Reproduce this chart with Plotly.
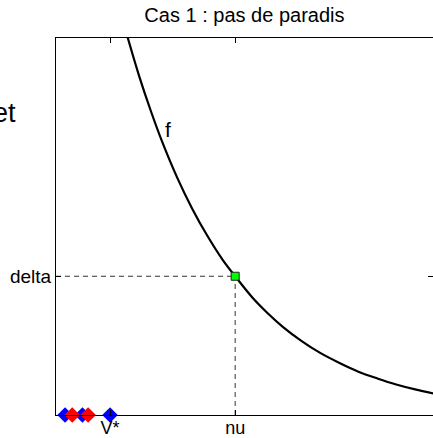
import plotly.graph_objects as go

# curve f
curve_x = [1.8, 1.9, 2.2, 2.5, 2.8, 3.2, 3.6, 4.0, 4.4, 4.74, 5.2, 5.6, 6.0, 6.5, 7.0, 7.5, 8.0, 8.5, 9.0, 9.5, 10.0]
curve_y = [10.36, 10.0, 8.99, 8.09, 7.27, 6.31, 5.48, 4.76, 4.13, 3.68, 3.11, 2.70, 2.34, 1.96, 1.64, 1.38, 1.15, 0.97, 0.81, 0.68, 0.57]

nu = 4.74
delta = 3.68
v_star = 1.43

blue_x = [0.24, 0.70, 1.43]
red_x = [0.43, 0.85]

x_tick_vals = [v_star, nu]
x_tick_text = ["V*", "nu"]
y_tick_vals = [delta]
y_tick_text = ["delta"]

FONT = "Liberation Sans, Arial, sans-serif"

fig = go.Figure()

# dashed guides
fig.add_trace(go.Scatter(x=[0, nu], y=[delta, delta], mode="lines",
                         line=dict(color="#333333", width=1, dash="5px,4px"),
                         hoverinfo="skip", showlegend=False))
fig.add_trace(go.Scatter(x=[nu, nu], y=[0, delta], mode="lines",
                         line=dict(color="#333333", width=1, dash="5px,4px"),
                         hoverinfo="skip", showlegend=False))

fig.add_trace(go.Scatter(x=curve_x, y=curve_y, mode="lines", line_shape="spline",
                         line=dict(color="black", width=2.2), showlegend=False))

fig.add_trace(go.Scatter(x=[nu], y=[delta], mode="markers",
                         marker=dict(symbol="square", size=8, color="#00ff00",
                                     line=dict(color="#222222", width=1)),
                         showlegend=False))

fig.add_trace(go.Scatter(x=blue_x, y=[0] * len(blue_x), mode="markers", cliponaxis=False,
                         marker=dict(symbol="diamond", size=12, color="#0000ff",
                                     line=dict(width=0)), showlegend=False))
fig.add_trace(go.Scatter(x=red_x, y=[0] * len(red_x), mode="markers", cliponaxis=False,
                         marker=dict(symbol="diamond", size=12, color="#ff0000",
                                     line=dict(width=0)), showlegend=False))

# invisible trace to activate right y axis
fig.add_trace(go.Scatter(x=[0], y=[0], yaxis="y2", mode="markers",
                         marker=dict(opacity=0), hoverinfo="skip", showlegend=False))

fig.add_annotation(text="f", x=2.96, y=7.56, xref="x", yref="y", showarrow=False,
                   font=dict(family=FONT, size=21, color="black"))
fig.add_annotation(text="et", x=-0.100, y=0.80, xref="paper", yref="paper",
                   xanchor="right", yanchor="middle", showarrow=False,
                   font=dict(family=FONT, size=27, color="black"))

fig.update_layout(
    width=433, height=438,
    margin=dict(l=56, r=0, t=38, b=23),
    paper_bgcolor="white", plot_bgcolor="white",
    title=dict(text="Cas 1 : pas de paradis", x=0.5645, xanchor="center",
               y=1 - 15 / 438, yanchor="middle",
               font=dict(family=FONT, size=20, color="black")),
    xaxis=dict(range=[0, 10 * 377 / 378], showgrid=False, zeroline=False,
               showline=True, linecolor="black", linewidth=1, mirror="ticks",
               ticks="inside", ticklen=5, tickcolor="black",
               tickvals=x_tick_vals, ticktext=x_tick_text, ticklabelstandoff=-4,
               tickfont=dict(family=FONT, size=18, color="black"), automargin=False),
    yaxis=dict(range=[0, 10], showgrid=False, zeroline=False,
               showline=True, linecolor="black", linewidth=1,
               ticks="inside", ticklen=5, tickcolor="black",
               tickvals=y_tick_vals, ticktext=y_tick_text,
               tickfont=dict(family=FONT, size=19, color="black"), automargin=False),
    yaxis2=dict(range=[0, 10], overlaying="y", side="right", showgrid=False,
                zeroline=False, showline=False, ticks="inside", ticklen=5,
                tickcolor="black", tickvals=y_tick_vals, showticklabels=False),
    showlegend=False,
)

fig.write_html("out.html")
